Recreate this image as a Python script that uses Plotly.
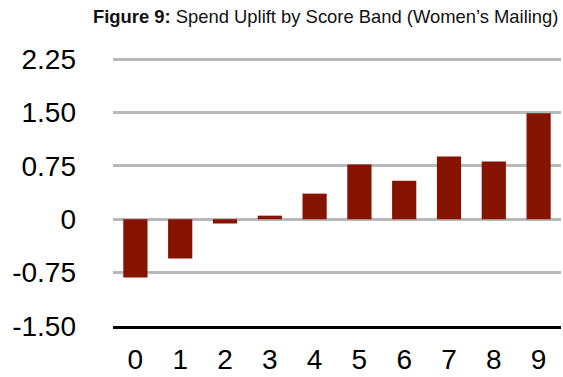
import plotly.graph_objects as go

# Score bands and spend uplift per band
bands = ["0", "1", "2", "3", "4", "5", "6", "7", "8", "9"]
uplift = [-0.82, -0.55, -0.06, 0.05, 0.36, 0.77, 0.54, 0.88, 0.81, 1.49]

# Y-axis ticks
y_tick_vals = [-1.5, -0.75, 0, 0.75, 1.5, 2.25]
y_tick_text = ["-1.50", "-0.75", "0", "0.75", "1.50", "2.25"]

BAR_COLOR = "#861200"
GRID_COLOR = "#b8b8b8"
FONT = "Liberation Sans, Arial, Helvetica, sans-serif"

fig = go.Figure(
    go.Bar(
        x=bands,
        y=uplift,
        marker=dict(color=BAR_COLOR, line=dict(width=0)),
        hoverinfo="x+y",
    )
)

fig.update_layout(
    width=563,
    height=377,
    margin=dict(l=113, r=2, t=40, b=51, autoexpand=False),
    paper_bgcolor="white",
    plot_bgcolor="white",
    bargap=0.46,
    showlegend=False,
    font=dict(family=FONT, color="black"),
    annotations=[
        dict(
            text="<b>Figure 9:</b> Spend Uplift by Score Band (Women’s Mailing)",
            xref="paper",
            yref="paper",
            x=1.0,
            y=1.0,
            xanchor="right",
            yanchor="middle",
            yshift=24,
            xshift=-1,
            showarrow=False,
            font=dict(family=FONT, size=18.4, color="#111111"),
        )
    ],
)

fig.update_xaxes(
    type="category",
    automargin=False,
    showgrid=False,
    showline=True,
    linecolor="black",
    linewidth=2.5,
    ticks="",
    ticklabelstandoff=7,
    tickfont=dict(family=FONT, size=28, color="black"),
)

fig.update_yaxes(
    automargin=False,
    range=[-1.5, 2.518],
    tickvals=y_tick_vals,
    ticktext=y_tick_text,
    showgrid=True,
    gridcolor=GRID_COLOR,
    gridwidth=2.5,
    zeroline=False,
    showline=False,
    ticks="",
    ticklabelstandoff=36,
    tickfont=dict(family=FONT, size=28, color="black"),
)

fig.write_html("out.html")
